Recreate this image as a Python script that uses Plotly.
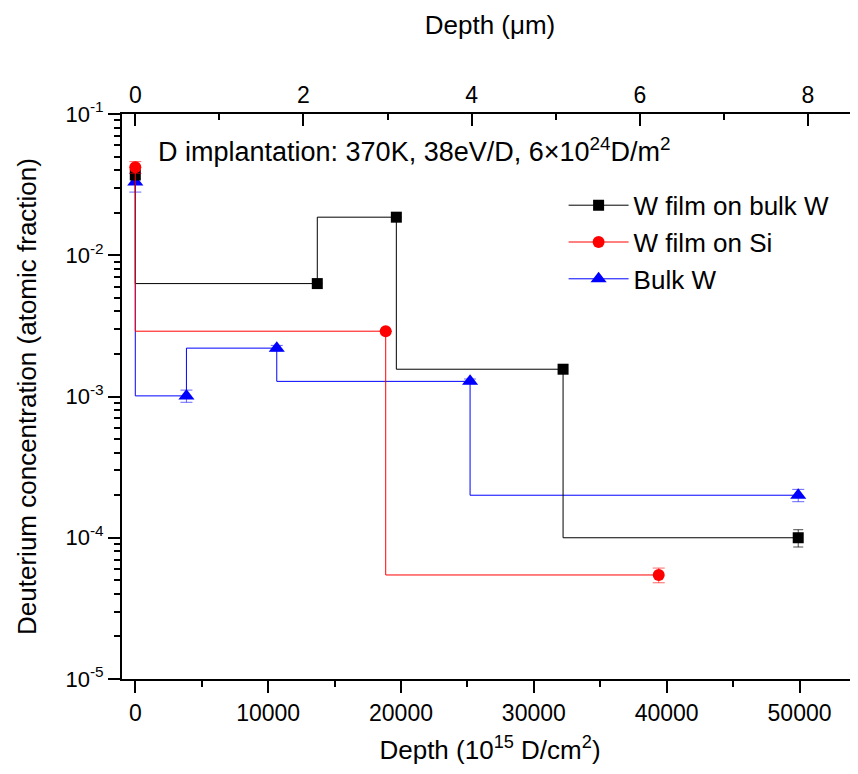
import plotly.graph_objects as go

# ---------------- data ----------------
depth_ticks = [0, 10000, 20000, 30000, 40000, 50000]
um_ticks = [0, 2, 4, 6, 8]
UNITS_PER_UM = 6329.0          # 10^15 D/cm^2 per micrometre (top axis conversion)
x_range = [-1000, 54400]

y_tick_vals = [1e-1, 1e-2, 1e-3, 1e-4, 1e-5]
y_tick_text = ["10<sup>-1</sup>", "10<sup>-2</sup>", "10<sup>-3</sup>",
               "10<sup>-4</sup>", "10<sup>-5</sup>"]
y_minor_vals = [k * 10.0 ** e for e in range(-5, -1) for k in range(2, 10)]
right_tick_vals = [10 ** -1.8, 10 ** -2.6, 10 ** -3.4, 10 ** -4.2]

film_bulk_x = [0, 13700, 19650, 32200, 49900]
film_bulk_y = [0.037, 0.0063, 0.0186, 0.00156, 1.0e-4]
film_bulk_err = [0.002, 0.0, 0.0, 0.0, 1.4e-5]

film_si_x = [0, 18850, 39400]
film_si_y = [0.042, 0.0029, 5.45e-5]
film_si_err = [0.004, 0.0, 0.65e-5]

bulk_x = [0, 3850, 10650, 25200, 49900]
bulk_y = [0.033, 0.00101, 0.0022, 0.00128, 2.0e-4]
bulk_err = [0.005, 0.0001, 0.0001, 0.00005, 0.2e-4]

FONT = "Arial, Liberation Sans, Helvetica, sans-serif"

fig = go.Figure()

fig.add_trace(go.Scatter(
    x=bulk_x, y=bulk_y, name="Bulk W", mode="lines+markers",
    line=dict(color="#0000FF", width=1, shape="vh"),
    marker=dict(symbol="triangle-up", size=14, color="#0000FF"),
    error_y=dict(type="data", array=bulk_err, color="rgba(0,0,255,0.6)", thickness=1, width=6),
    legendrank=3,
))
fig.add_trace(go.Scatter(
    x=film_bulk_x, y=film_bulk_y, name="W film on bulk W", mode="lines+markers",
    line=dict(color="#000000", width=1, shape="vh"),
    marker=dict(symbol="square", size=11, color="#000000"),
    error_y=dict(type="data", array=film_bulk_err, color="rgba(0,0,0,0.7)", thickness=1, width=5),
    legendrank=1,
))
fig.add_trace(go.Scatter(
    x=film_si_x, y=film_si_y, name="W film on Si", mode="lines+markers",
    line=dict(color="#FF0000", width=1, shape="vh"),
    marker=dict(symbol="circle", size=12, color="#FF0000"),
    error_y=dict(type="data", array=film_si_err, color="rgba(255,0,0,0.6)", thickness=1, width=6),
    legendrank=2,
))
# empty carriers so the top depth axis and the right tick axis get drawn
fig.add_trace(go.Scatter(x=[], y=[], xaxis="x2", yaxis="y", showlegend=False, hoverinfo="skip"))
fig.add_trace(go.Scatter(x=[], y=[], xaxis="x", yaxis="y2", showlegend=False, hoverinfo="skip"))

fig.update_layout(
    width=850, height=766,
    margin=dict(l=114, r=0, t=106, b=95, autoexpand=False),
    paper_bgcolor="white", plot_bgcolor="white",
    font=dict(family=FONT, color="black", size=24),
    showlegend=True,
    legend=dict(x=0.6, y=0.88, xanchor="left", yanchor="top",
                font=dict(size=26, family=FONT), bgcolor="rgba(0,0,0,0)",
                itemwidth=60, tracegroupgap=0),
    xaxis=dict(
        range=x_range, domain=[0, 1],
        tickmode="array", tickvals=depth_ticks, ticktext=[str(v) for v in depth_ticks],
        ticks="outside", ticklen=12, tickwidth=2, tickcolor="black",
        minor=dict(ticks="outside", ticklen=6, tickwidth=2, tickcolor="black", dtick=5000, tick0=0),
        showline=True, linewidth=2, linecolor="black",
        showgrid=False, zeroline=False,
        tickfont=dict(size=23),
        title=dict(text="Depth (10<sup>15</sup> D/cm<sup>2</sup>)", font=dict(size=26), standoff=16),
    ),
    xaxis2=dict(
        overlaying="x", side="top", anchor="y",
        range=[x_range[0] / UNITS_PER_UM, x_range[1] / UNITS_PER_UM],
        tickmode="array", tickvals=um_ticks, ticktext=[str(v) for v in um_ticks],
        ticks="inside", ticklen=12, tickwidth=2, tickcolor="black",
        minor=dict(ticks="inside", ticklen=6, tickwidth=2, tickcolor="black", dtick=1, tick0=0),
        showline=True, linewidth=2, linecolor="black",
        showgrid=False, zeroline=False,
        tickfont=dict(size=23),
        title=dict(text="Depth (μm)", font=dict(size=26), standoff=40),
    ),
    yaxis=dict(
        type="log", range=[-5, -1],
        tickmode="array", tickvals=y_tick_vals, ticktext=y_tick_text,
        ticks="outside", ticklen=12, tickwidth=2, tickcolor="black",
        minor=dict(ticks="outside", ticklen=6, tickwidth=2, tickcolor="black",
                   tickmode="array", tickvals=y_minor_vals),
        showline=True, linewidth=2, linecolor="black",
        showgrid=False, zeroline=False,
        tickfont=dict(size=22),
        title=dict(text="Deuterium concentration (atomic fraction)", font=dict(size=26), standoff=21),
    ),
    yaxis2=dict(
        overlaying="y", side="right", anchor="x", type="log", range=[-5, -1],
        tickmode="array", tickvals=right_tick_vals,
        ticks="inside", ticklen=6, tickwidth=2, tickcolor="black",
        showticklabels=False, showline=False, showgrid=False, zeroline=False,
    ),
)

fig.add_annotation(
    xref="paper", yref="paper", x=0.046, y=0.936, xanchor="left", yanchor="middle",
    text="D implantation: 370K, 38eV/D, 6×10<sup>24</sup>D/m<sup>2</sup>",
    showarrow=False, font=dict(size=27, family=FONT),
)

fig.write_html("out.html")
